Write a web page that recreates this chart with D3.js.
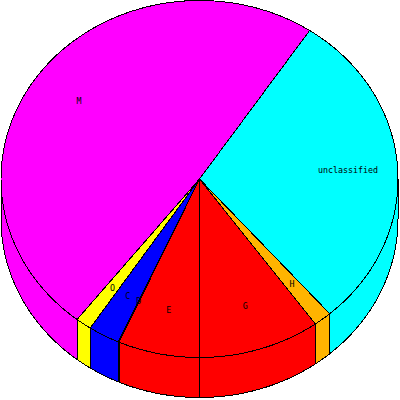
<!DOCTYPE html>
<html>
<head>
<meta charset="utf-8">
<script src="https://cdn.jsdelivr.net/npm/d3@7"></script>
<style>
  html, body { margin: 0; padding: 0; background: #fff; }
  svg { display: block; }
</style>
</head>
<body>
<svg id="chart" width="400" height="400"></svg>
<script>
// Data (clockwise from the M / unclassified boundary)
const categories = ["unclassified", "H", "G", "E", "D", "C", "O", "M"];
const values     = [29.25, 1.47, 9.92, 6.64, 0.08, 2.56, 1.30, 48.78];
const colors     = ["#00ffff", "#ffb400", "#ff0000", "#ff0000", "#00ff00", "#0000ff", "#ffff00", "#ff00ff"];

const W = 400, H = 400;
const cx = 199.5, cy = 179, rx = 198.5, ry = 178.5, depth = 40;
const start = 33.7 * Math.PI / 180;

const svg = d3.select("#chart");

const pie = d3.pie().sort(null).value(d => d.v)
  .startAngle(start).endAngle(start + 2 * Math.PI);
const arcs = pie(categories.map((c, i) => ({ c, v: values[i], col: colors[i] })));

const xs = d3.scaleLinear().domain([-1, 1]).range([cx - rx, cx + rx]);
const ys = d3.scaleLinear().domain([-1, 1]).range([cy + ry, cy - ry]);
const pt = (a, r = 1, dy = 0) => [xs(r * Math.sin(a)), ys(r * Math.cos(a)) + dy];
const line = d3.line();
const step = Math.PI / 720;
function sample(a0, a1, dy) {
  const pts = [];
  const n = Math.max(1, Math.ceil((a1 - a0) / step));
  for (let i = 0; i <= n; i++) pts.push(pt(a0 + (a1 - a0) * i / n, 1, dy));
  return pts;
}

// Side walls (front half: angles between 90° and 270° clockwise from top)
const f0 = Math.PI / 2, f1 = 3 * Math.PI / 2;
const sides = svg.append("g");
arcs.forEach(d => {
  const a0 = Math.max(d.startAngle, f0), a1 = Math.min(d.endAngle, f1);
  if (a1 <= a0) return;
  const top = sample(a0, a1, 0);
  const bot = sample(a0, a1, depth).reverse();
  sides.append("path")
    .attr("d", line(top.concat(bot)) + "Z")
    .attr("fill", d.data.col)
    .attr("stroke", "#000")
    .attr("stroke-width", 1)
    .attr("shape-rendering", "crispEdges");
});

// Top faces
const tops = svg.append("g");
arcs.forEach(d => {
  const pts = [[cx, cy]].concat(sample(d.startAngle, d.endAngle, 0));
  tops.append("path")
    .attr("d", line(pts) + "Z")
    .attr("fill", d.data.col)
    .attr("stroke", "#000")
    .attr("stroke-width", 1)
    .attr("shape-rendering", "crispEdges");
});

// Labels
const labels = svg.append("g");
arcs.forEach(d => {
  const m = (d.startAngle + d.endAngle) / 2;
  const p = pt(m, 0.75, 0);
  labels.append("text")
    .attr("x", p[0]).attr("y", p[1])
    .attr("text-anchor", "middle")
    .attr("dominant-baseline", "central")
    .attr("font-family", "DejaVu Sans Mono, monospace")
    .attr("font-size", 8.3)
    .attr("fill", "#000")
    .text(d.data.c);
});
</script>
</body>
</html>
